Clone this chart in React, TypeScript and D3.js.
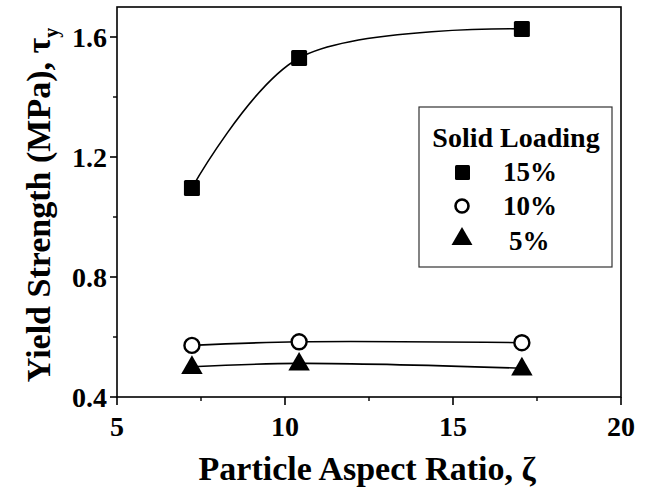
import React from "react";
import * as d3 from "d3";

const aspectRatio = [7.23, 10.42, 17.05];
const load15 = [1.097, 1.53, 1.627];
const load10 = [0.572, 0.584, 0.581];
const load5 = [0.501, 0.512, 0.496];
const xTicks = [5, 10, 15, 20];
const xMinor = [7.5, 12.5, 17.5];
const yTicks = [0.4, 0.8, 1.2, 1.6];
const yMinor = [0.6, 1.0, 1.4];
const legendLabels = ["15%", "10%", "5%"];

const W = 647, H = 496;
const L = 117, R = 621, T = 7, B = 397;
const FONT = "'Liberation Serif', 'Times New Roman', serif";

export default function App() {
  const x = d3.scaleLinear().domain([5, 20]).range([L, R]);
  const y = d3.scaleLinear().domain([0.4, 1.7]).range([B, T]);
  const line = d3
    .line<[number, number]>()
    .x((d) => x(d[0]))
    .y((d) => y(d[1]))
    .curve(d3.curveCatmullRom.alpha(0.5));
  const pts = (vals: number[]) => aspectRatio.map((a, i) => [a, vals[i]] as [number, number]);
  const tri = d3.symbol().type(d3.symbolTriangle).size(200)() as string;
  const triL = d3.symbol().type(d3.symbolTriangle).size(190)() as string;

  return (
    <svg width={W} height={H} style={{ position: "absolute", left: 0, top: 0, background: "#fff" }} fontFamily={FONT}>
      <rect x={0} y={0} width={W} height={H} fill="#fff" />
      <rect x={L} y={T} width={R - L} height={B - T} fill="none" stroke="#000" strokeWidth={1.6} />
      {xTicks.map((t) => (
        <g key={"xt" + t}>
          <line x1={x(t)} x2={x(t)} y1={B} y2={B + 8} stroke="#000" strokeWidth={1.6} />
          <text x={x(t)} y={436} textAnchor="middle" fontSize={28} fontWeight="bold">{t}</text>
        </g>
      ))}
      {xMinor.map((t) => (
        <line key={"xm" + t} x1={x(t)} x2={x(t)} y1={B} y2={B + 4} stroke="#000" strokeWidth={1.4} />
      ))}
      {yTicks.map((t) => (
        <g key={"yt" + t}>
          <line x1={L - 7} x2={L} y1={y(t)} y2={y(t)} stroke="#000" strokeWidth={1.6} />
          <text x={L - 10} y={y(t)} dy="0.35em" textAnchor="end" fontSize={28} fontWeight="bold">{t.toFixed(1)}</text>
        </g>
      ))}
      {yMinor.map((t) => (
        <line key={"ym" + t} x1={L - 4} x2={L} y1={y(t)} y2={y(t)} stroke="#000" strokeWidth={1.4} />
      ))}
      <text x={367} y={480} textAnchor="middle" fontSize={34} fontWeight="bold">Particle Aspect Ratio, ζ</text>
      <text transform="translate(50,205) rotate(-90)" textAnchor="middle" fontSize={34} fontWeight="bold">
        Yield Strength (MPa), τ<tspan fontSize={20} dy={8}>y</tspan>
      </text>
      <path d={line(pts(load15)) as string} fill="none" stroke="#000" strokeWidth={1.6} />
      <path d={line(pts(load10)) as string} fill="none" stroke="#000" strokeWidth={1.6} />
      <path d={line(pts(load5)) as string} fill="none" stroke="#000" strokeWidth={1.6} />
      {aspectRatio.map((a, i) => (
        <rect key={"s" + i} x={x(a) - 8} y={y(load15[i]) - 8} width={16} height={16} rx={1.5} fill="#000" />
      ))}
      {aspectRatio.map((a, i) => (
        <path key={"t" + i} d={tri} transform={`translate(${x(a)},${y(load5[i]) + 1})`} fill="#000" />
      ))}
      {aspectRatio.map((a, i) => (
        <circle key={"c" + i} cx={x(a)} cy={y(load10[i])} r={7.5} fill="#fff" stroke="#000" strokeWidth={2.4} />
      ))}
      <rect x={419} y={107} width={193} height={160} fill="#fff" stroke="#333" strokeWidth={1.2} />
      <text x={516} y={147} textAnchor="middle" fontSize={28} fontWeight="bold">Solid Loading</text>
      <rect x={455} y={165} width={15} height={15} rx={1.5} fill="#000" />
      <circle cx={462} cy={206} r={6.5} fill="#fff" stroke="#000" strokeWidth={2.6} />
      <path d={triL} transform="translate(462,239)" fill="#000" />
      <text x={503} y={181} fontSize={27} fontWeight="bold">{legendLabels[0]}</text>
      <text x={503} y={215} fontSize={27} fontWeight="bold">{legendLabels[1]}</text>
      <text x={509} y={250} fontSize={27} fontWeight="bold">{legendLabels[2]}</text>
    </svg>
  );
}
